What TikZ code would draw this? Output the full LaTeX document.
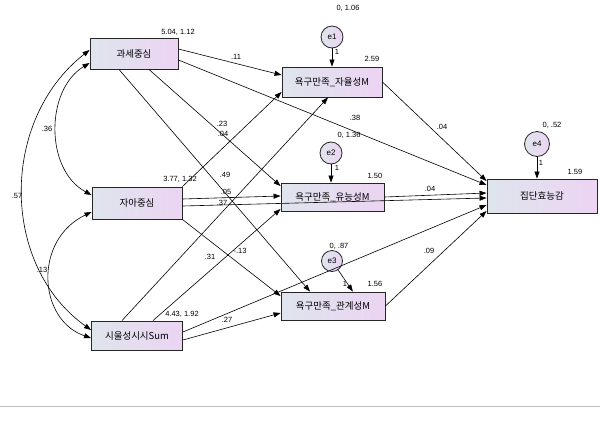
\documentclass[tikz,border=0pt]{standalone}
\usepackage{fontspec}
\setmainfont{Liberation Sans}
\newfontfamily\krfont{Noto Sans CJK KR}
\usepackage{tikz}
\usetikzlibrary{arrows.meta, calc}

\definecolor{boxleft}{RGB}{222,229,237}
\definecolor{boxright}{RGB}{236,212,243}

\begin{document}
\begin{tikzpicture}[x=1pt, y=-1pt,
  var/.style={draw=black!85, line width=0.9pt, rectangle, inner sep=0pt,
              font=\krfont\fontsize{9.5}{10}\selectfont,
              left color=boxleft, right color=boxright},
  err/.style={circle, draw=black!85, line width=0.8pt, inner sep=0pt,
              font=\fontsize{8}{9}\selectfont,
              left color=boxleft, right color=boxright},
  arr/.style={-{Triangle[length=7pt,width=5pt]}, line width=0.6pt},
  cov/.style={{Triangle[length=7pt,width=5pt]}-{Triangle[length=7pt,width=5pt]}, line width=0.6pt},
  num/.style={font=\fontsize{7.5}{8}\selectfont, inner sep=0pt},
]
  \useasboundingbox (0,0) rectangle (600,424);

  % exogenous
  \node[var, minimum width=88pt, minimum height=31pt] (tax)  at (134,53.5) {과세중심};
  \node[var, minimum width=90pt, minimum height=32pt] (self) at (137,203)  {자아중심};
  \node[var, minimum width=91pt, minimum height=29pt] (sum)  at (137,335.5) {시울성시시Sum};

  % mediators
  \node[var, minimum width=100pt, minimum height=30pt] (aut)  at (332,82)  {욕구만족\_자율성M};
  \node[var, minimum width=103pt, minimum height=28pt] (comp) at (332.5,197) {욕구만족\_유능성M};
  \node[var, minimum width=104pt, minimum height=28pt] (rel)  at (333,306) {욕구만족\_관계성M};

  % outcome
  \node[var, minimum width=110pt, minimum height=34pt] (eff) at (542,196) {집단효능감};

  % errors
  \node[err, minimum size=22pt] (e1) at (332,37)  {e1};
  \node[err, minimum size=22pt] (e2) at (331,153) {e2};
  \node[err, minimum size=21pt] (e3) at (332,261) {e3};
  \node[err, minimum size=25pt] (e4) at (537,144) {e4};

  % paths
  \draw[arr] ([yshift=4.5pt]tax.east) -- ([yshift=7pt]aut.west);
  \draw[arr] ([yshift=-6.5pt]tax.east) -- ([yshift=11pt]eff.west);
  \draw[arr] ([xshift=15pt]tax.south) -- ([yshift=11pt]comp.west);
  \draw[arr] ([xshift=-15pt]tax.south) -- ([xshift=-23pt]rel.north);
  \draw[arr] (self.north east) -- ([yshift=-10pt]aut.west);
  \draw[arr] ([yshift=4pt]self.east) -- ([yshift=1pt]comp.west);
  \draw[arr] ([yshift=-3pt]self.east) -- ([yshift=-2pt]eff.west);
  \draw[arr] (self.south east) -- ([yshift=10pt]rel.west);
  \draw[arr] ([xshift=-15pt]sum.north) -- ([xshift=-4pt]aut.south);
  \draw[arr] ([xshift=16pt]sum.north) -- ([yshift=-12pt]comp.west);
  \draw[arr] ([yshift=3.5pt]sum.east) -- ([yshift=-9pt]eff.west);
  \draw[arr] ([yshift=-4.5pt]sum.east) -- ([yshift=-7pt]rel.west);
  \draw[arr] (aut.east) -- ([yshift=15pt]eff.west);
  \draw[arr] (comp.east) -- ([yshift=3pt]eff.west);
  \draw[arr] (rel.east) -- ([yshift=-15pt]eff.west);

  \draw[arr] (e1) -- (e1 |- aut.north);
  \draw[arr] (e2) -- (e2 |- comp.north);
  \draw[arr] (e3) -- (rel.36);
  \draw[arr] (e4) -- (e4 |- eff.north);

  % covariances
  \draw[cov] ([yshift=-9.5pt]tax.west) .. controls (45,90) and (45,170) .. ([yshift=8pt]self.west);
  \draw[cov] ([yshift=3.5pt]tax.west) .. controls (0,120) and (0,265) .. ([yshift=5.5pt]sum.west);
  \draw[cov] ([yshift=-9pt]self.west) .. controls (33,240) and (38,320) .. ([yshift=-2.5pt]sum.west);

  % estimates
  \node[num] (ntax)  at (178,32)  {5.04, 1.12};
  \node[num] (nself) at (180,179) {3.77, 1.32};
  \node[num] (nsum)  at (182,314) {4.43, 1.92};
  \node[num] (naut)  at (372,59)  {2.59};
  \node[num] (ncomp) at (375,176) {1.50};
  \node[num] (nrel)  at (375,284) {1.56};
  \node[num] (neff)  at (575,172) {1.59};
  \node[num] (ne1)   at (348,8)   {0, 1.06};
  \node[num] (ne2)   at (349,135) {0, 1.36};
  \node[num] (ne3)   at (339,246) {0, .87};
  \node[num] (ne4)   at (552,125) {0, .52};
  \node[num] (w1)    at (337,52)  {1};
  \node[num] (w2)    at (337,168) {1};
  \node[num] (w3)    at (345,284) {1};
  \node[num] (w4)    at (541,163) {1};

  \node[num] (p1)  at (236,57)  {.11};
  \node[num] (p2)  at (355,118) {.38};
  \node[num] (p3)  at (222,124) {.23};
  \node[num] (p4)  at (223,134) {.04};
  \node[num] (p5)  at (225,175) {.49};
  \node[num] (p6)  at (226,192) {.05};
  \node[num] (p7)  at (222,203) {.37};
  \node[num] (p8)  at (210,257) {.31};
  \node[num] (p9)  at (240,251) {-.13};
  \node[num] (p10) at (227,320) {.27};
  \node[num] (p11) at (442,127) {.04};
  \node[num] (p12) at (430,189) {.04};
  \node[num] (p13) at (429,251) {.09};
  \node[num] (c1)  at (47,129)  {.36};
  \node[num] (c2)  at (17,196)  {.57};
  \node[num] (c3)  at (42,270)  {.13};

  \draw[gray!50] (0,406) -- (600,406);
\end{tikzpicture}
\end{document}
